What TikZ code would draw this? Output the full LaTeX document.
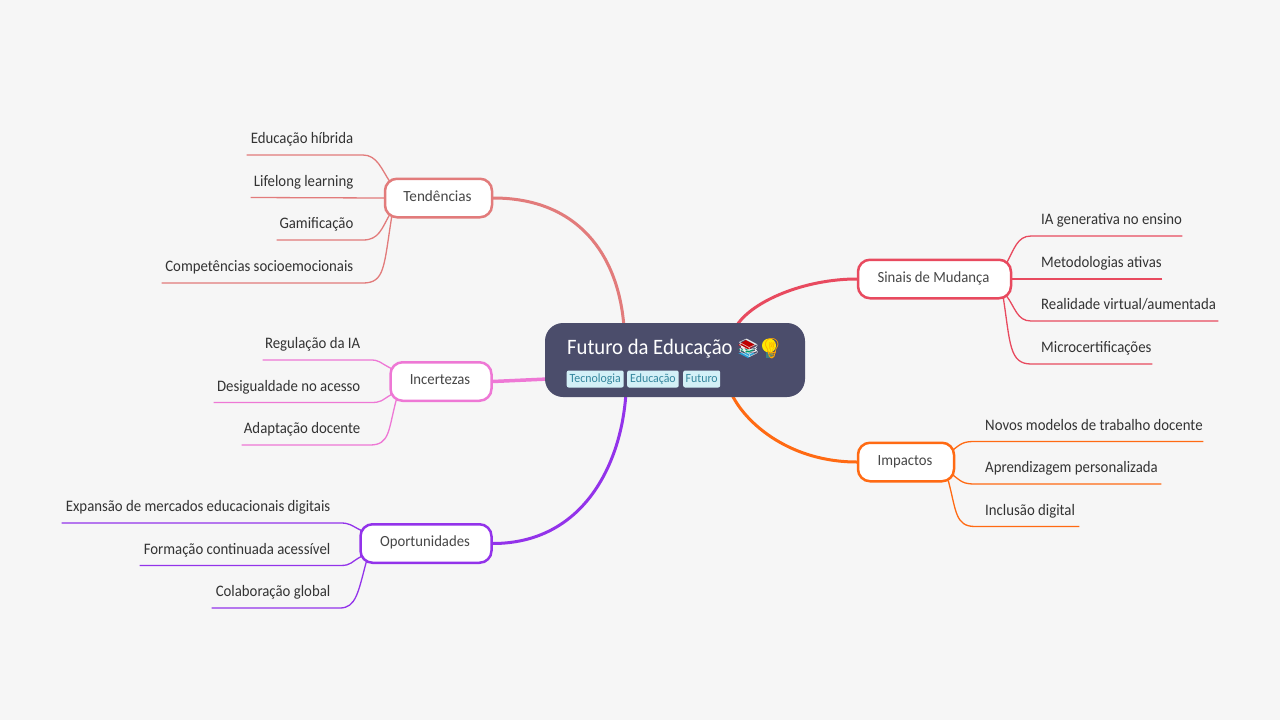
\documentclass[tikz,border=0pt]{standalone}
\usepackage{fontspec}
\setmainfont{Carlito}
\newfontfamily\emojifont{Noto Emoji}
\usetikzlibrary{calc}
\pgfdeclarelayer{paper}
\pgfdeclarelayer{back}
\pgfsetlayers{paper,back,main}
\definecolor{bg}{HTML}{F6F6F6}
\definecolor{cT}{HTML}{E27B7B}
\definecolor{cS}{HTML}{E84A5F}
\definecolor{cM}{HTML}{FF6A13}
\definecolor{cO}{HTML}{9333EA}
\definecolor{cI}{HTML}{EE78D5}
\definecolor{rootc}{HTML}{4B4D6B}
\definecolor{tagf}{HTML}{D3F0F7}
\definecolor{tagt}{HTML}{35879E}
\newcommand{\leafl}[2]{\makebox[#1pt][r]{\scalebox{0.925}[1]{#2}\hspace{9.5pt}}}
\newcommand{\leafr}[2]{\makebox[#1pt][l]{\hspace{10pt}\scalebox{0.925}[1]{#2}}}
\newcommand{\narrow}[1]{\scalebox{0.95}[1]{#1}}
\newcommand{\lab}[1]{\scalebox{0.95}[1]{#1}\hspace*{2pt}}
\tikzset{
 x=1pt,y=-1pt,
 branch/.style={draw=#1,line width=2.5pt,fill=white,rounded corners=12pt,minimum height=38.5pt,inner sep=0pt,text=black!72,text height=11pt,text depth=5pt,font=\fontsize{15.5}{18}\selectfont},
 leafbase/.style={inner xsep=0pt,inner ysep=0pt,text height=11pt,text depth=11pt,text=black!80,font=\fontsize{16}{18}\selectfont},
 leafleft/.style={leafbase,anchor=south east},
 leafright/.style={leafbase,anchor=south west},
 trunk/.style={line width=3pt,line cap=round},
 twig/.style={line width=1.3pt},
 tagbox/.style={fill=tagf,rounded corners=2pt,inner sep=0pt,minimum height=17pt,text=tagt,font=\fontsize{12.5}{14}\selectfont,anchor=west},
}
\begin{document}
\begin{tikzpicture}
\begin{pgfonlayer}{paper}
\fill[bg] (0,0) rectangle (1280,720);
\end{pgfonlayer}
\useasboundingbox (0,0) rectangle (1280,720);
% root
\node[fill=rootc,rounded corners=18pt,minimum width=260pt,minimum height=74pt,inner sep=0pt] (root) at (675,360) {};
\node[anchor=base west,inner sep=0pt,text=white,font=\fontsize{22}{24}\selectfont] (title) at (567,354) {\scalebox{0.94}[1]{Futuro da Educação}};
% emoji colouring
\fill[red!75!black] (738,345) -- (746,340) -- (755,345) -- (748,350) -- cycle;
\fill[teal!80!green] (738,349) -- (745,349) -- (755,349) -- (748,354) -- cycle;
\fill[blue!30!cyan!70!gray] (738,353) -- (747,353) -- (755,353) -- (748,358) -- cycle;
\fill[yellow!90!orange] (769,345.5) circle[radius=7];
\fill[teal!50!gray] (765.5,352) rectangle (772.5,358);
\node[anchor=base west,inner sep=0pt,text=white!85!gray,font=\emojifont\fontsize{18}{22}\selectfont] (books) at (737,354.5) {📚};
\node[anchor=base west,inner sep=0pt,text=orange!70!yellow,font=\emojifont\fontsize{20}{22}\selectfont] (bulb) at (759,355) {💡};
\node[tagbox,minimum width=57pt] (t1) at (566.5,379) {\narrow{Tecnologia}};
\node[tagbox,minimum width=51.5pt] (t2) at (627,379) {\narrow{Educação}};
\node[tagbox,minimum width=37pt] (t3) at (683,379) {\narrow{Futuro}};
% branches
\node[branch=cT,minimum width=107pt] (tend) at (438.5,198) {\scalebox{0.98}[1]{Tendências}\hspace*{2pt}};
\node[branch=cI,minimum width=101pt] (inc) at (441,381.5) {\lab{Incertezas}};
\node[branch=cO,minimum width=131pt] (opo) at (426,543.5) {\lab{Oportunidades}};
\node[branch=cS,minimum width=153pt] (sin) at (934.5,279) {\lab{Sinais de Mudança}};
\node[branch=cM,minimum width=96pt] (imp) at (906,462) {\lab{Impactos}};
% leaves
\node[leafleft] (l11) at (363,155) {\leafl{116}{Educação híbrida}};
\node[leafleft] (l12) at (363,197.5) {\leafl{112}{Lifelong learning}};
\node[leafleft] (l13) at (363,240) {\leafl{86}{Gamificação}};
\node[leafleft] (l14) at (363,283) {\leafl{201}{Competências socioemocionais}};
\node[leafleft] (l21) at (370,360) {\leafl{107}{Regulação da IA}};
\node[leafleft] (l22) at (370,402.5) {\leafl{156}{Desigualdade no acesso}};
\node[leafleft] (l23) at (370,445) {\leafl{128}{Adaptação docente}};
\node[leafleft] (l31) at (340,523) {\leafl{278}{Expansão de mercados educacionais digitais}};
\node[leafleft] (l32) at (340,565.5) {\leafl{200}{Formação continuada acessível}};
\node[leafleft] (l33) at (340,608) {\leafl{128}{Colaboração global}};
\node[leafright] (r11) at (1031,236) {\leafr{151}{IA generativa no ensino}};
\node[leafright] (r12) at (1031,279) {\leafr{131}{Metodologias ativas}};
\node[leafright] (r13) at (1031,321) {\leafr{187}{Realidade virtual/aumentada}};
\node[leafright] (r14) at (1031,364) {\leafr{121}{Microcertificações}};
\node[leafright] (r21) at (975,441.5) {\leafr{228}{Novos modelos de trabalho docente}};
\node[leafright] (r22) at (975,484) {\leafr{186}{Aprendizagem personalizada}};
\node[leafright] (r23) at (975,526.5) {\leafr{104}{Inclusão digital}};
\begin{pgfonlayer}{back}
% trunks
\draw[trunk,cT] (tend.east) .. controls +(85,0) and +(-6,-70) .. ($(root.north west)+(79,2)$);
\draw[trunk,cI,line width=3.5pt] (inc.east) -- ($(root.west)+(3,19)$);
\draw[trunk,cO] (opo.east) .. controls +(90,0) and +(-5,70) .. ($(root.south west)+(81,-2)$);
\draw[trunk,cS] (sin.west) .. controls +(-52,0) and +(16,-24) .. ($(root.north east)+(-68,2)$);
\draw[trunk,cM] (imp.west) .. controls +(-65,0) and +(15,30) .. ($(root.south east)+(-73,-2)$);
% twigs, Tendencias
\draw[twig,cT] (l11.south west) -- (l11.south east) .. controls +(14,0) and +(-8,-12) .. ($(tend.north west)+(6,4)$);
\draw[twig,cT] (l12.south west) -- (tend.west);
\draw[twig,cT] (l13.south west) -- (l13.south east) .. controls +(16,0) and +(-8,14) .. ($(tend.south west)+(6,-4)$);
\draw[twig,cT] (l14.south west) -- (l14.south east) .. controls +(22,0) and +(-8,50) .. ($(tend.south west)+(8,-2)$);
% Incertezas
\draw[twig,cI] (l21.south west) -- (l21.south east) .. controls +(10,0) and +(-14,-7) .. ($(inc.north west)+(3,8)$);
\draw[twig,cI] (l22.south west) -- (l22.south east) .. controls +(12,0) and +(-12,7) .. ($(inc.south west)+(3,-8)$);
\draw[twig,cI] (l23.south west) -- (l23.south east) .. controls +(20,0) and +(-8,30) .. ($(inc.south west)+(7,-2)$);
% Oportunidades
\draw[twig,cO] (l31.south west) -- (l31.south east) .. controls +(10,0) and +(-12,-6) .. ($(opo.north west)+(3,8)$);
\draw[twig,cO] (l32.south west) -- (l32.south east) .. controls +(12,0) and +(-12,6) .. ($(opo.south west)+(3,-8)$);
\draw[twig,cO] (l33.south west) -- (l33.south east) .. controls +(16,0) and +(-8,30) .. ($(opo.south west)+(7,-2)$);
% Sinais
\draw[twig,cS] (r11.south east) -- (r11.south west) .. controls +(-14,0) and +(8,-14) .. ($(sin.north east)+(-6,5)$);
\draw[twig,cS] (r12.south east) -- (sin.east);
\draw[twig,cS] (r13.south east) -- (r13.south west) .. controls +(-14,0) and +(9,12) .. ($(sin.south east)+(-6,-4)$);
\draw[twig,cS] (r14.south east) -- (r14.south west) .. controls +(-22,0) and +(7,45) .. ($(sin.south east)+(-9,-2)$);
% Impactos
\draw[twig,cM] (r21.south east) -- (r21.south west) .. controls +(-12,0) and +(9,-7) .. ($(imp.north east)+(-3,9)$);
\draw[twig,cM] (r22.south east) -- (r22.south west) .. controls +(-12,0) and +(9,7) .. ($(imp.south east)+(-3,-8)$);
\draw[twig,cM] (r23.south east) -- (r23.south west) .. controls +(-20,0) and +(8,30) .. ($(imp.south east)+(-7,-2)$);
\end{pgfonlayer}
\end{tikzpicture}
\end{document}
